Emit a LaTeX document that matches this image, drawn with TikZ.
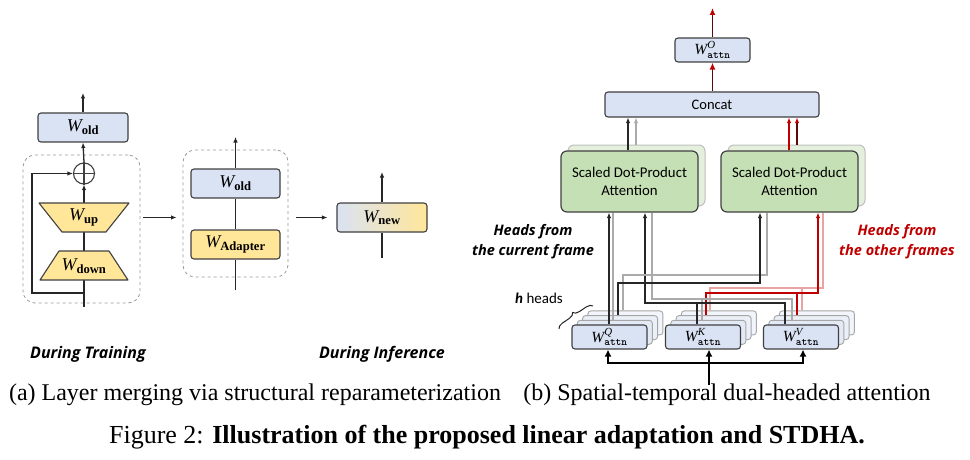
\documentclass[tikz,border=0pt]{standalone}
\usepackage{amsmath}
\usepackage[no-math]{fontspec}
\setmainfont{Liberation Serif}
\newfontfamily\calfont{Carlito}
\newfontfamily\osfont{Open Sans}
\usetikzlibrary{arrows.meta,decorations.pathreplacing}
\definecolor{boxblue}{HTML}{DAE3F3}
\definecolor{boxyel}{HTML}{FFE699}
\definecolor{boxgreen}{HTML}{C5E0B4}
\definecolor{shgreen}{HTML}{E4F0DC}
\definecolor{edge}{HTML}{404040}
\definecolor{lgray}{HTML}{ABABAB}
\definecolor{dred}{HTML}{C00000}
\definecolor{lred}{HTML}{E8A3A3}
\definecolor{dkred}{HTML}{5A0A0A}
\newcommand{\Wsub}[1]{$\textit{W}_{\textbf{#1}}$}
\newcommand{\Watt}[1]{$\textit{W}^{\textit{#1}}_{\texttt{\textbf{attn}}}$}
\tikzset{
  ln/.style={line width=1.3pt, draw=black!85},
  arr/.style={-{Latex[length=5.5pt,width=4.5pt]}},
  rarr/.style={-{Latex[length=7pt,width=6pt,color=dred]}},
  barr/.style={-{Latex[length=7pt,width=7pt]}},
  wbox/.style={draw=edge, line width=1.1pt, rounded corners=3pt, fill=boxblue, inner sep=0pt},
  ybox/.style={wbox, fill=boxyel},
  dbox/.style={draw=black!40, dashed, line width=0.8pt, rounded corners=12pt, inner sep=0pt},
  layer/.style={draw=black!35, line width=0.9pt, rounded corners=3pt, inner sep=0pt,
     minimum width=75pt, minimum height=24pt},
  attbox/.style={draw=edge, line width=1.2pt, rounded corners=6pt, fill=boxgreen,
     minimum width=137pt, minimum height=61pt, inner sep=0pt, align=center,
     font=\calfont\fontsize{14.8}{18}\selectfont},
  attsh/.style={draw=black!25, line width=1pt, rounded corners=6pt, fill=shgreen,
     minimum width=137pt, minimum height=61pt, inner sep=0pt},
  blk/.style={line width=1.3pt, draw=black!85},
  gry/.style={line width=1.3pt, draw=lgray},
  rd/.style={line width=1.3pt, draw=dred},
  lrd/.style={line width=1.3pt, draw=lred},
  dkr/.style={line width=1.8pt, draw=dkred},
  thk/.style={line width=2.2pt, draw=black},
  lbl/.style={font=\osfont\bfseries\itshape\fontsize{14.5}{20}\selectfont, align=center},
  tlbl/.style={font=\osfont\bfseries\itshape\fontsize{16}{20}\selectfont},
  wf/.style={font=\fontsize{18}{20}\selectfont},
  wsf/.style={font=\fontsize{15.5}{17}\selectfont},
}
\begin{document}
\begin{tikzpicture}[x=1pt,y=-1pt]
\useasboundingbox (0,0) rectangle (970,460);
% ================= (a) =================
\node[dbox, minimum width=117pt, minimum height=148pt] (dash1) at (81.5,229) {};
\node[dbox, minimum width=105pt, minimum height=127pt] (dash2) at (235.5,213.5) {};
\coordinate (ain) at (84,307);
\coordinate (skip) at (84,293);
\coordinate (wupN) at (84,203);
\coordinate (wupS) at (84,232);
\coordinate (wdnN) at (84,251);
\coordinate (wdnS) at (84,280);
\node[circle, draw=edge, line width=1.1pt, minimum size=21pt, inner sep=0pt, fill=white] (plus) at (84,173.5) {};
\draw[edge, line width=1.1pt] (plus.north) -- (plus.south) (plus.west) -- (plus.east);
\draw[ln] (ain) -- (wdnS);
\draw[ln] (wdnN) -- (wupS);
\draw[ln,arr] (wupN) -- (plus.south);
\draw[ln,arr] (skip) -- ++(-52,0) |- (plus.west);
\draw[edge, line width=1.1pt, fill=boxyel, line join=round] (39,203) -- (129,203) -- (106,232) -- (62,232) -- cycle;
\draw[edge, line width=1.1pt, fill=boxyel, line join=round] (59,251) -- (109,251) -- (128,280) -- (40,280) -- cycle;
\node[wf] (wup) at (84,217.5) {\Wsub{up}};
\node[wf] (wdown) at (84,266) {\Wsub{down}};
\node[wbox, minimum width=90pt, minimum height=29pt, wf] (wold1) at (83,127.5) {\Wsub{old}};
\draw[ln,arr] (plus.north) -- (wold1.south);
\coordinate (aout) at (83,93);
\draw[ln,arr] (wold1.north) -- (aout);
% middle
\coordinate (bin) at (235.5,290);
\coordinate (bout) at (235.5,137);
\node[wbox, minimum width=89pt, minimum height=29pt, wf] (wold2) at (235.5,183.5) {\Wsub{old}};
\node[ybox, minimum width=89pt, minimum height=29pt, wf] (wadp) at (235.5,244.5) {\Wsub{Adapter}};
\draw[ln] (bin) -- (wadp.south);
\draw[ln] (wadp.north) -- (wold2.south);
\draw[ln,arr] (wold2.north) -- (bout);
% new
\node[wbox, left color=boxblue, right color=boxyel, minimum width=90pt, minimum height=29pt, wf] (wnew) at (382,217.5) {\Wsub{new}};
\coordinate (nin) at (382,258);
\coordinate (nout) at (382,172);
\draw[ln] (nin) -- (wnew.south);
\draw[ln,arr] (wnew.north) -- (nout);
\draw[ln,arr,shorten <=3pt,shorten >=6pt] (dash1.east |- wnew.center) -- (dash2.west |- wnew.center);
\draw[ln,arr,shorten <=8pt,shorten >=9pt] (dash2.east |- wnew.center) -- (wnew.west);
\node[tlbl] (dtrain) at (88,354) {During Training};
\node[tlbl] (dinf) at (382,354) {During Inference};
% ================= (b) =================
\node[wbox, minimum width=75pt, minimum height=24pt, wsf] (wo) at (712.5,50) {\Watt{O}};
\node[wbox, minimum width=214pt, minimum height=25pt, font=\calfont\fontsize{14.5}{16}\selectfont] (concat) at (712,104.5) {Concat};
\node[attsh] (attLs) at (636.5,175.5) {};
\node[attbox] (attL) at (629.5,181.5) {Scaled Dot-Product\\Attention};
\node[attsh] (attRs) at (796.5,175.5) {};
\node[attbox] (attR) at (789.5,181.5) {Scaled Dot-Product\\Attention};
\foreach \nm/\cx/\lab in {q/609.5/Q, k/703/K, v/801/V}{
  \node[layer, fill=boxblue!35!white] (\nm3) at ({\cx+15.9},{337-14.1}) {};
  \node[layer, fill=boxblue!55!white] (\nm2) at ({\cx+10.6},{337-9.4}) {};
  \node[layer, fill=boxblue!75!white] (\nm1) at ({\cx+5.3},{337-4.7}) {};
  \node[wbox, minimum width=75pt, minimum height=24pt, wsf] (\nm) at (\cx,337) {\Watt{\lab}};
}
\coordinate (oout) at (712.5,8);
\draw[dkr,rarr] (concat.north -| wo.south) -- (wo.south);
\draw[dkr,rarr] (wo.north) -- (oout);
\draw[blk,arr] (attL.north -| 628,0) -- (concat.south -| 628,0);
\draw[gry,arr] (attLs.north -| 636,0) -- (concat.south -| 636,0);
\draw[rd,arr] (attR.north -| 789,0) -- (concat.south -| 789,0);
\draw[blk,draw=dkred,-{Latex[length=5.5pt,width=4.5pt,color=dred]}] (attRs.north -| 797,0) -- (concat.south -| 797,0);
% routing
\draw[lrd] (k3.north -| 710,0) |- (823,288) -- (attR.south -| 823,0);
\draw[lrd] (v3.north -| 802,0) -- (802,288);
\draw[rd,arr] (k2.north -| 706,0) |- (818,293) -- (attR.south -| 818,0);
\draw[rd] (v2.north -| 797,0) -- (797,293);
\draw[gry] (v1.north -| 792,0) |- (652,299) -- (attL.south -| 652,0);
\draw[gry] (k1.north -| 702,0) -- (702,299);
\draw[blk,arr] (v.north -| 785,0) |- (645,303) -- (attL.south -| 645,0);
\draw[blk] (k.north -| 697,0) -- (697,303);
\draw[gry] (q3.north -| 623,0) |- (767,275) -- (attR.south -| 767,0);
\draw[blk,arr] (q2.north -| 618,0) |- (760,283) -- (attR.south -| 760,0);
\draw[gry] (q1.north -| 613,0) -- (attL.south -| 613,0);
\draw[blk,arr] (q.north -| 609,0) -- (attL.south -| 609,0);
% bottom input
\coordinate (bin2) at (709,385);
\coordinate (bj) at (709,363);
\draw[thk] (bin2) -- (bj);
\draw[thk,barr] (bj) -| (q.south -| 608,0);
\draw[thk,barr] (bj) -| (v.south -| 803,0);
\draw[thk,barr] (bj) -- (k.south -| 709,0);
% labels
\node[lbl] (curr) at (533,242) {Heads from\\the current frame};
\node[lbl, text=dred] (other) at (897,242) {Heads from\\the other frames};
\node[font=\calfont\fontsize{15}{17}\selectfont] (hh) at (539,298) {\textbf{\textit{h}} heads};
\draw[black!85, line width=1pt, decorate, decoration={brace, amplitude=6pt}] (559,329) -- (593,306);
% captions
\node[font=\fontsize{24}{27}\selectfont] (capa) at (255,395) {(a) Layer merging via structural reparameterization};
\node[font=\fontsize{24}{27}\selectfont] (capb) at (727,395) {(b) Spatial-temporal dual-headed attention};
\node[font=\fontsize{26}{29}\selectfont] (fig) at (487,437) {Figure 2: \textbf{Illustration of the proposed linear adaptation and STDHA.}};
\end{tikzpicture}
\end{document}
